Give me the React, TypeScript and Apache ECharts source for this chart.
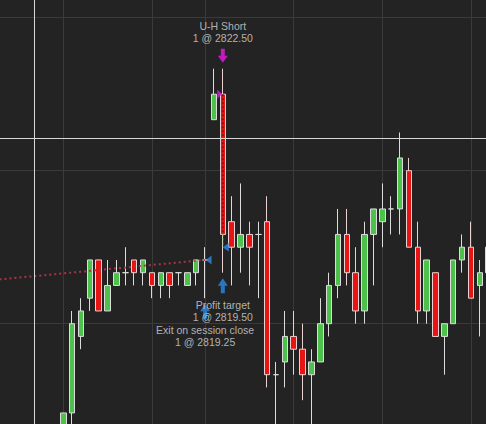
import React, { useEffect, useRef } from "react";
import * as echarts from "echarts";

// Visible bars 0..48 (left to right)
const opens = [
  2815.75, 2816.25, 2817.75, 2818.5, 2819.25, 2818.25, 2818.75, 2819.0, 2819.25, 2819.0,
  2819.0, 2818.75, 2819.0, 2819.0, 2818.75, 2819.0, 2819.25, 2822.0, 2822.5, 2820.0,
  2819.5, 2819.75, 2819.75, 2820.0, 2817.0, 2817.25, 2817.75, 2817.5, 2817.0, 2817.25,
  2818.0, 2818.75, 2819.75, 2819.0, 2818.25, 2819.75, 2820.0, 2820.25, 2820.25, 2821.0,
  2819.5, 2818.25, 2819.0, 2817.75, 2818.0, 2819.25, 2819.5, 2818.75, 2819.0,
];
const closes = [
  2816.25, 2818.0, 2818.25, 2819.25, 2818.25, 2818.75, 2819.0, 2819.0, 2819.0, 2819.25,
  2818.75, 2819.0, 2818.75, 2819.0, 2819.0, 2819.25, 2819.25, 2822.5, 2819.75, 2819.5,
  2819.75, 2819.5, 2819.75, 2817.0, 2817.0, 2817.75, 2817.5, 2817.0, 2817.25, 2818.0,
  2818.75, 2819.75, 2819.0, 2818.25, 2819.75, 2820.25, 2820.25, 2820.25, 2821.25, 2819.5,
  2818.25, 2819.25, 2817.75, 2818.0, 2819.25, 2819.5, 2818.5, 2819.0, 2819.5,
];
const lows = [
  2815.5, 2815.75, 2817.5, 2818.25, 2818.25, 2818.25, 2818.75, 2818.75, 2818.75, 2818.75,
  2818.5, 2818.5, 2818.5, 2818.75, 2818.75, 2818.75, 2818.5, 2822.0, 2819.0, 2818.75,
  2819.0, 2818.75, 2818.5, 2816.75, 2815.75, 2816.75, 2817.0, 2816.5, 2815.75, 2817.25,
  2817.75, 2818.5, 2818.75, 2818.0, 2818.0, 2818.75, 2819.5, 2819.75, 2819.75, 2819.5,
  2818.0, 2818.0, 2817.75, 2817.0, 2818.0, 2819.0, 2818.5, 2817.75, 2819.0,
];
const highs = [
  2816.25, 2818.25, 2818.5, 2819.25, 2819.25, 2819.25, 2819.25, 2819.5, 2819.25, 2819.25,
  2819.0, 2819.0, 2819.0, 2819.0, 2819.0, 2819.25, 2819.5, 2823.0, 2823.0, 2820.5,
  2820.75, 2820.0, 2820.0, 2820.5, 2817.25, 2818.25, 2818.25, 2818.0, 2817.5, 2818.5,
  2819.0, 2820.25, 2820.25, 2819.5, 2820.0, 2820.25, 2820.75, 2820.5, 2821.75, 2821.25,
  2820.0, 2819.25, 2819.0, 2818.0, 2819.25, 2819.75, 2820.0, 2819.25, 2819.5,
];

// earlier (off-screen) bars shown as empty slots so the previous trade line can start there
const LEAD = 60;
const barNames = Array.from({ length: LEAD + opens.length }, (_, k) => "B" + (k - LEAD));

// vertical time grid lines (bar numbers) and horizontal price grid lines
const timeGridBars = ["B-10", "B0", "B10", "B16", "B26", "B36", "B46"];
const priceGrid = [2815, 2818, 2821, 2824];

// executions
const entryBar = "B18";
const entryPrice = 2822.5;
const targetBar = "B18";
const targetPrice = 2819.5;
const sessionExitBar = "B16";
const sessionExitPrice = 2819.25;
const prevEntryBar = "B-60";
const prevEntryPrice = 2818.0;
const bodyBottom18 = 2819.75;
const high18 = 2823.0;
const low18 = 2819.0;
const low16 = 2818.5;

const FONT = "'Liberation Sans', Arial, sans-serif";
const TXT = "#d8d8d8";
const MAGENTA = "#e619e6";
const BLUE = "#2a8ae6";

const downArrow = "path://M3,0L7,0L7,7L10,7L5,14L0,7L3,7Z";
const upArrow = "path://M5,0L10,7L7,7L7,14L3,14L3,7L0,7Z";

export default function App() {
  const ref = useRef<HTMLDivElement>(null);
  useEffect(() => {
    if (!ref.current) return;
    const chart = echarts.init(ref.current, undefined, { renderer: "svg" });
    const candleData = [
      ...Array.from({ length: LEAD }, () => "-"),
      ...opens.map((o, i) => [o, closes[i], lows[i], highs[i]]),
    ];
    const s = 8.862;
    const firstCenter = 63.3;
    const gridLeft = firstCenter - (LEAD + 0.5) * s;
    const ppp = 51; // px per point
    const yMax = 2827;
    const yMin = 2812;
    const y2821 = 170.7;
    const gridTop = y2821 - (yMax - 2821) * ppp;

    const transparent = "rgba(0,0,0,0)";
    const textItem = (bar: string, price: number, text: string, dy: number) => ({
      value: [bar, price],
      symbolSize: 1,
      itemStyle: { color: transparent },
      label: {
        show: true,
        position: "inside",
        offset: [0, dy],
        formatter: text,
        color: TXT,
        fontSize: 10.5,
        lineHeight: 12,
        fontFamily: FONT,
        align: "center",
      },
    });

    chart.setOption({
      animation: false,
      backgroundColor: "#232323",
      grid: {
        left: gridLeft,
        top: gridTop,
        width: barNames.length * s,
        height: (yMax - yMin) * ppp,
        containLabel: false,
        outerBoundsMode: "none",
      },
      xAxis: {
        type: "category",
        data: barNames,
        boundaryGap: true,
        axisLine: { show: false },
        axisTick: { show: false },
        axisLabel: { show: false },
        splitLine: { show: false },
      },
      yAxis: {
        type: "value",
        min: yMin,
        max: yMax,
        axisLine: { show: false },
        axisTick: { show: false },
        axisLabel: { show: false },
        splitLine: { show: false },
      },
      series: [
        {
          type: "candlestick",
          data: candleData,
          barWidth: 6,
          z: 3,
          itemStyle: {
            color: "#4cc24c",
            color0: "#e81414",
            borderColor: "#dcdcdc",
            borderColor0: "#ead2d2",
            borderWidth: 1,
          },
          markLine: {
            silent: true,
            symbol: "none",
            z: 1,
            label: { show: false },
            lineStyle: { color: "#3a3a3a", width: 1, type: "solid" },
            data: [
              ...timeGridBars.map((b) => ({ xAxis: b })),
              ...priceGrid.map((p) => ({ yAxis: p })),
            ],
          },
        },
        // previous trade connector (losing) - red dotted
        {
          type: "line",
          z: 4,
          symbol: "none",
          silent: true,
          lineStyle: { color: "#a8344a", width: 2, type: [2, 3] },
          data: [
            [prevEntryBar, prevEntryPrice],
            [sessionExitBar, sessionExitPrice],
          ],
        },
        // current trade connector inside body
        {
          type: "line",
          z: 4,
          symbol: "none",
          silent: true,
          lineStyle: { color: "#8a1212", width: 2, type: [2, 2] },
          data: [
            [entryBar, entryPrice],
            [entryBar, bodyBottom18],
          ],
        },
        {
          type: "line",
          z: 4,
          symbol: "none",
          silent: true,
          lineStyle: { color: "#7ad07a", width: 1, type: [2, 2] },
          data: [
            [entryBar, bodyBottom18],
            [targetBar, targetPrice],
          ],
        },
        // execution markers
        {
          type: "scatter",
          z: 5,
          silent: true,
          data: [
            { value: [entryBar, high18], symbol: downArrow, symbolSize: [10, 14], symbolOffset: [0, -13], itemStyle: { color: MAGENTA } },
            { value: [entryBar, entryPrice], symbol: "triangle", symbolRotate: -90, symbolSize: [9, 5], symbolOffset: [-3, 0], itemStyle: { color: MAGENTA } },
            { value: [targetBar, targetPrice], symbol: "triangle", symbolRotate: 90, symbolSize: [9, 6], symbolOffset: [3, 0], itemStyle: { color: BLUE } },
            { value: [sessionExitBar, sessionExitPrice], symbol: "triangle", symbolRotate: 90, symbolSize: [9, 6], symbolOffset: [3.5, 0], itemStyle: { color: BLUE } },
            { value: [targetBar, low18], symbol: upArrow, symbolSize: [10, 15], symbolOffset: [0, 13], itemStyle: { color: BLUE } },
            { value: [sessionExitBar, low16], symbol: upArrow, symbolSize: [10, 15], symbolOffset: [0, 13], itemStyle: { color: BLUE } },
          ],
        },
        // execution texts
        {
          type: "scatter",
          z: 6,
          silent: true,
          data: [
            textItem(entryBar, high18, "U-H Short\n1 @ 2822.50", -37),
            textItem(targetBar, low18, "Profit target\n1 @ 2819.50", 38),
            textItem(sessionExitBar, low16, "Exit on session close\n1 @ 2819.25", 38),
          ],
        },
      ],
      graphic: [
        // cursor crosshair
        { type: "line", shape: { x1: 34.5, y1: 0, x2: 34.5, y2: 424 }, style: { stroke: "#d8d8d8", lineWidth: 1 }, z: 10 },
        { type: "line", shape: { x1: 0, y1: 138.5, x2: 486, y2: 138.5 }, style: { stroke: "#d8d8d8", lineWidth: 1 }, z: 10 },
      ],
    });
    return () => chart.dispose();
  }, []);
  return (
    <div
      ref={ref}
      style={{ position: "absolute", left: 0, top: 0, width: 486, height: 424 }}
    />
  );
}
